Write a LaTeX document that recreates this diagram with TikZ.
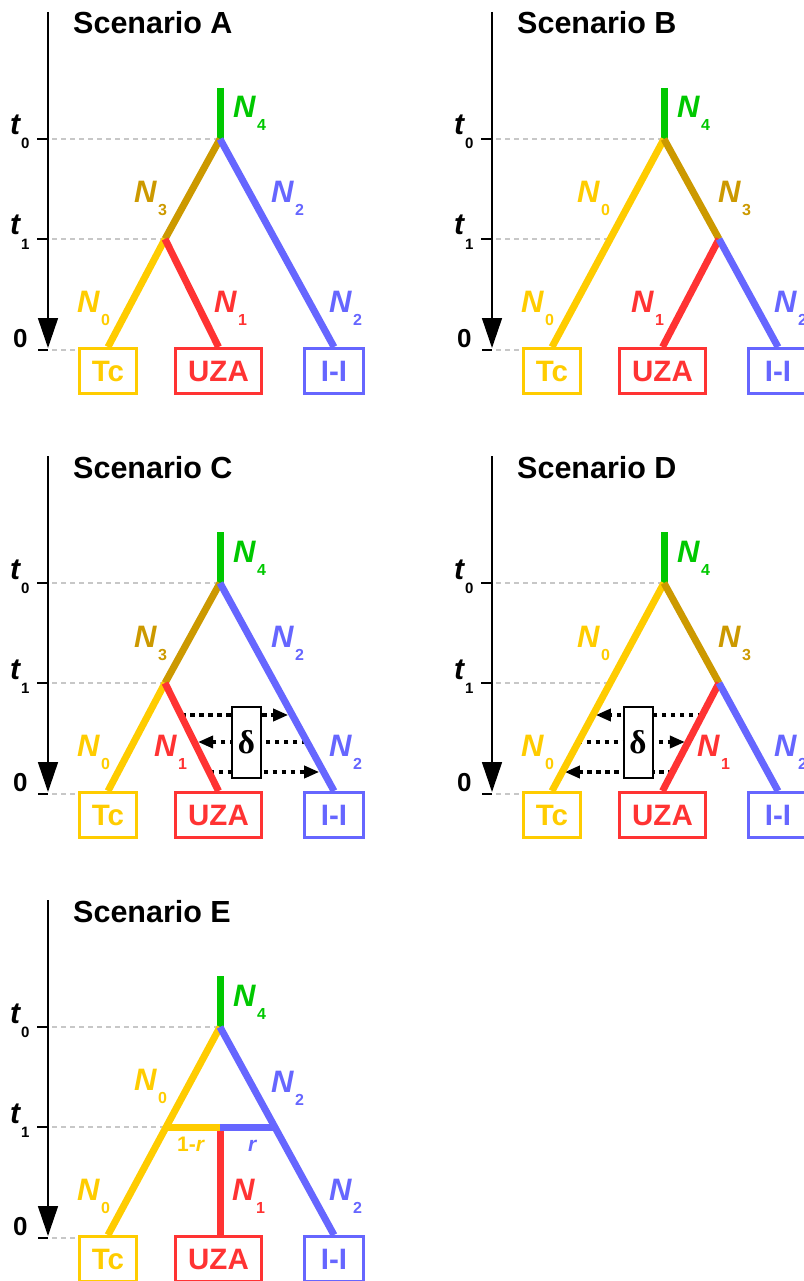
\documentclass[tikz,border=0pt]{standalone}
\usepackage{fontspec}
\setmainfont{Liberation Sans}
\newfontfamily\deltafont{Liberation Serif}
\usetikzlibrary{arrows.meta}
\definecolor{cY}{HTML}{FFCC00}
\definecolor{cR}{HTML}{FF3333}
\definecolor{cB}{HTML}{6666FF}
\definecolor{cG}{HTML}{00C800}
\definecolor{cD}{HTML}{CC9900}
\newcommand\NSub[1]{\textit{N}\hspace{1pt}\raisebox{-13pt}{\fontsize{16}{16}\selectfont\upshape #1}}
\newcommand\TSub[1]{\textit{t}\raisebox{-14pt}{\fontsize{15}{15}\selectfont\upshape #1}}
\tikzset{
 br/.style={line width=7pt, line cap=butt},
 axisln/.style={line width=1.6pt, -{Triangle[length=30pt,width=20pt]}},
 tickln/.style={line width=1.6pt},
 guide/.style={draw=black!22, line width=1.5pt, dash pattern=on 5pt off 4pt},
 ttl/.style={anchor=base west, inner sep=0pt, font=\fontsize{30.5}{31}\selectfont\bfseries},
 lab/.style={anchor=base west, inner sep=0pt, font=\fontsize{31}{32}\selectfont\bfseries},
 small/.style={anchor=base west, inner sep=0pt, font=\fontsize{21}{22}\selectfont\bfseries},
 tlab/.style={anchor=base west, inner sep=0pt, font=\fontsize{30}{32}\selectfont\bfseries},
 bx/.style={draw, line width=3pt, minimum height=45pt, inner sep=0pt, font=\fontsize{29.5}{30}\selectfont\bfseries},
 mig/.style={line width=3.5pt, dash pattern=on 4.5pt off 4.5pt},
 migtip/.style={mig, -{Triangle[length=15pt,width=12pt]}},
 dbox/.style={draw, fill=white, line width=2pt, minimum width=29pt, minimum height=71pt, inner sep=0pt, font=\deltafont\fontsize{33}{33}\selectfont\bfseries},
}
\newcommand\PanelBase[2]{%
 \node[ttl] (title#1) at (73,34) {Scenario #2};
 \coordinate (axtop#1) at (48,12);
 \coordinate (axbot#1) at (48,348);
 \draw[axisln] (axtop#1) -- (axbot#1);
 \coordinate (tkOa#1) at (37,139); \coordinate (tkOb#1) at (48,139);
 \coordinate (tkIa#1) at (37,239); \coordinate (tkIb#1) at (48,239);
 \coordinate (tkZa#1) at (38,350); \coordinate (tkZb#1) at (48,350);
 \draw[tickln] (tkOa#1) -- (tkOb#1);
 \draw[tickln] (tkIa#1) -- (tkIb#1);
 \draw[tickln] (tkZa#1) -- (tkZb#1);
 \node[tlab] (ltO#1) at (10,135) {\TSub{0}};
 \node[tlab] (ltI#1) at (10,235) {\TSub{1}};
 \node[anchor=base west, inner sep=0pt, font=\fontsize{26}{28}\selectfont\bfseries] (lz#1) at (13,347) {0};
 \coordinate (gO#1) at (52,139);
 \coordinate (gI#1) at (52,239);
 \coordinate (gZ#1) at (52,350);
 \coordinate (root#1) at (220,139);
 \coordinate (top#1) at (220,88);
 \coordinate (yI#1) at (166,239);
 \node[bx, color=cY, minimum width=57pt] (tc#1) at (108,371) {Tc};
 \node[bx, color=cR, minimum width=86pt] (uza#1) at (218.5,371) {UZA};
 \node[bx, color=cB, minimum width=59pt] (ii#1) at (334,371) {I-I};
 \draw[guide] (gO#1) -- (root#1);
 \draw[guide] (gI#1) -- (yI#1);
 \draw[guide] (gZ#1) -- (tc#1.west |- gZ#1);
 \draw[br, cG] (top#1) -- (root#1);
 \node[lab, cG] (nfour#1) at (233,118) {\NSub{4}};
}
\begin{document}
\begin{tikzpicture}[x=1pt,y=-1pt]
\useasboundingbox (0,0) rectangle (803,1281);

% ---------- Scenario A
\begin{scope}
\PanelBase{A}{A}
\coordinate (jA) at (165,239);
\draw[br,cD] (rootA) -- (jA);
\draw[br,cY] (jA) -- (tcA.north);
\draw[br,cR] (jA) -- (uzaA.north);
\draw[br,cB] (rootA) -- (iiA.north);
\node[lab,cD] (nthreeA) at (134,203) {\NSub{3}};
\node[lab,cB] (ntwoA) at (271,203) {\NSub{2}};
\node[lab,cY] (nzeroA) at (77,312) {\NSub{0}};
\node[lab,cR] (noneA) at (214,312) {\NSub{1}};
\node[lab,cB] (ntwolA) at (329,312) {\NSub{2}};
\end{scope}

% ---------- Scenario B
\begin{scope}[shift={(444,0)}]
\PanelBase{B}{B}
\coordinate (jB) at (275,239);
\draw[br,cY] (rootB) -- (tcB.north);
\draw[br,cD] (rootB) -- (jB);
\draw[br,cR] (jB) -- (uzaB.north);
\draw[br,cB] (jB) -- (iiB.north);
\node[lab,cY] (nzeroB) at (133,203) {\NSub{0}};
\node[lab,cD] (nthreeB) at (274,203) {\NSub{3}};
\node[lab,cY] (nzerolB) at (77,312) {\NSub{0}};
\node[lab,cR] (noneB) at (187,312) {\NSub{1}};
\node[lab,cB] (ntwolB) at (330,312) {\NSub{2}};
\end{scope}

% ---------- Scenario C
\begin{scope}[shift={(0,444)}]
\PanelBase{C}{C}
\coordinate (jC) at (165,239);
\coordinate (cas) at (181,271);   \coordinate (cae) at (288.2,271);
\coordinate (cbs) at (306.4,298); \coordinate (cbe) at (198,298);
\coordinate (ccs) at (209.5,328); \coordinate (cce) at (319.2,328);
\draw[migtip] (cas) -- (cae);
\draw[migtip] (cbs) -- (cbe);
\draw[migtip] (ccs) -- (cce);
\node[dbox] (deltaC) at (246.5,298.5) {δ};
\draw[br,cD] (rootC) -- (jC);
\draw[br,cY] (jC) -- (tcC.north);
\draw[br,cR] (jC) -- (uzaC.north);
\draw[br,cB] (rootC) -- (iiC.north);
\node[lab,cD] (nthreeC) at (134,203) {\NSub{3}};
\node[lab,cB] (ntwoC) at (271,203) {\NSub{2}};
\node[lab,cY] (nzeroC) at (77,312) {\NSub{0}};
\node[lab,cR] (noneC) at (154,312) {\NSub{1}};
\node[lab,cB] (ntwolC) at (329,312) {\NSub{2}};
\end{scope}

% ---------- Scenario D
\begin{scope}[shift={(444,444)}]
\PanelBase{D}{D}
\coordinate (jD) at (275,239);
\coordinate (das) at (258.4,271); \coordinate (dae) at (151.8,271);
\coordinate (dbs) at (133.6,298); \coordinate (dbe) at (240.9,298);
\coordinate (dcs) at (228.9,328); \coordinate (dce) at (120.8,328);
\draw[migtip] (das) -- (dae);
\draw[migtip] (dbs) -- (dbe);
\draw[migtip] (dcs) -- (dce);
\node[dbox] (deltaD) at (194,298.5) {δ};
\draw[br,cY] (rootD) -- (tcD.north);
\draw[br,cD] (rootD) -- (jD);
\draw[br,cR] (jD) -- (uzaD.north);
\draw[br,cB] (jD) -- (iiD.north);
\node[lab,cY] (nzeroD) at (133,203) {\NSub{0}};
\node[lab,cD] (nthreeD) at (274,203) {\NSub{3}};
\node[lab,cY] (nzerolD) at (77,312) {\NSub{0}};
\node[lab,cR] (noneD) at (253,312) {\NSub{1}};
\node[lab,cB] (ntwolD) at (330,312) {\NSub{2}};
\end{scope}

% ---------- Scenario E
\begin{scope}[shift={(0,888)}]
\PanelBase{E}{E}
\coordinate (yE) at (165.7,239);
\coordinate (mE) at (220,239);
\coordinate (bE) at (274.3,239);
\coordinate (rE) at (220,242.5);
\draw[br,cY] (rootE) -- (tcE.north);
\draw[br,cB] (rootE) -- (iiE.north);
\draw[br,cY] (yE) -- (mE);
\draw[br,cB] (mE) -- (bE);
\draw[br,cR] (rE) -- (rE |- uzaE.north);
\node[lab,cY] (nzeroE) at (134,202) {\NSub{0}};
\node[lab,cB] (ntwoE) at (271,204) {\NSub{2}};
\node[small,cY] (fracE) at (177,263) {1-\textit{r}};
\node[small,cB] (rlabE) at (248,263) {\textit{r}};
\node[lab,cR] (noneE) at (232,312) {\NSub{1}};
\node[lab,cY] (nzerolE) at (77,312) {\NSub{0}};
\node[lab,cB] (ntwolE) at (329,312) {\NSub{2}};
\end{scope}
\end{tikzpicture}
\end{document}
